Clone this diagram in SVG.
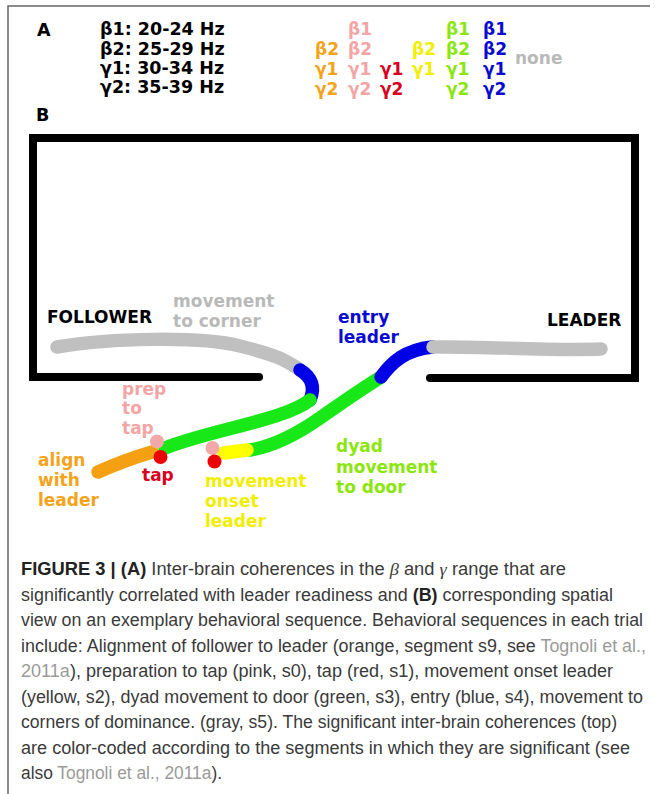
<svg xmlns="http://www.w3.org/2000/svg" width="655" height="794" viewBox="0 0 655 794">
<style>
.lb{font-family:"DejaVu Sans",Verdana,sans-serif;font-weight:bold;font-size:17px}
.lg{font-family:"DejaVu Sans",Verdana,sans-serif;font-weight:bold;font-size:17.5px}
.wall{fill:none;stroke:#000;stroke-width:8;stroke-linecap:square}
.wallr{fill:none;stroke:#000;stroke-width:8;stroke-linecap:round}
.trk{fill:none;stroke-width:13.5;stroke-linecap:round;stroke-linejoin:round}
.cap{font-family:"Liberation Sans",Arial,sans-serif;font-size:17.5px;fill:#3a3a3a}
.b{font-weight:bold;fill:#222}
.m{font-family:"Liberation Serif","Times New Roman",serif;font-style:italic}
.ref{fill:#9a9a9a}
.or{fill:#f5a31a}.pk{fill:#f3a5a5}.rd{fill:#d8001c}.ye{fill:#f2ee00}.gr{fill:#8be60f}.bl{fill:#0a0ad0}.gy{fill:#b9b9b9}
</style>
<rect x="0" y="0" width="655" height="794" fill="#fff"/>
<path d="M8,794 V6 H650" fill="none" stroke="#666" stroke-width="1.5"/>

<g id="legend">
<text class="lg" x="37" y="36">A</text>
<text class="lg" x="100" y="35">β1: 20-24 Hz</text>
<text class="lg" x="100" y="54.5">β2: 25-29 Hz</text>
<text class="lg" x="100" y="73.5">γ1: 30-34 Hz</text>
<text class="lg" x="100" y="92.5">γ2: 35-39 Hz</text>
<g class="lb or"><text x="315" y="55">β2</text><text x="315" y="75">γ1</text><text x="315" y="95">γ2</text></g>
<g class="lb pk"><text x="348" y="35">β1</text><text x="348" y="55">β2</text><text x="348" y="75">γ1</text><text x="348" y="95">γ2</text></g>
<g class="lb rd"><text x="380" y="75">γ1</text><text x="380" y="95">γ2</text></g>
<g class="lb ye"><text x="412" y="55">β2</text><text x="412" y="75">γ1</text></g>
<g class="lb gr"><text x="446" y="35">β1</text><text x="446" y="55">β2</text><text x="446" y="75">γ1</text><text x="446" y="95">γ2</text></g>
<g class="lb bl"><text x="483" y="35">β1</text><text x="483" y="55">β2</text><text x="483" y="75">γ1</text><text x="483" y="95">γ2</text></g>
<text class="lb gy" x="515" y="64">none</text>
<text class="lg" x="36" y="121">B</text>
</g>

<g id="room">
<path class="wall" d="M33,377 V138 H635 V378"/>
<path class="wallr" d="M33,377 H259"/>
<path class="wallr" d="M430,378 H635"/>
</g>

<g id="connectors">
<path class="trk" stroke="#c0c0c0" d="M57,347 C110,338 200,336 240,346 S285,360 299,369"/>
<path class="trk" stroke="#0000e6" d="M300,370 Q318,381 310,400"/>
<path class="trk" stroke="#18e818" d="M310,400 C285,420 210,430 165,448"/>
<path class="trk" stroke="#f5a012" d="M98,472 Q125,460 152,452"/>
<path class="trk" stroke="#18e818" d="M250,450 C275,446 300,432 320,418 S360,390 381,377"/>
<path class="trk" stroke="#0000e6" d="M381,377 C392,362 405,350 432,347"/>
<path class="trk" stroke="#c0c0c0" d="M433,347 C480,346 550,351 601,349"/>
<path class="trk" stroke="#ffff00" d="M224,453 L247,450"/>
</g>

<g id="follower-dots">
<circle cx="157" cy="441.5" r="7" fill="#f0a8a8"/>
<circle cx="160.5" cy="457" r="7" fill="#ee0000"/>
</g>
<g id="leader-dots">
<circle cx="212.5" cy="448" r="7" fill="#f0a8a8"/>
<circle cx="214.5" cy="461.5" r="7" fill="#ee0000"/>
</g>

<g id="labels">
<text class="lb" x="47" y="323" fill="#000">FOLLOWER</text>
<text class="lb" x="547" y="325.5" fill="#000">LEADER</text>
<g id="lbl-corner" class="lb gy"><text x="173" y="306.5">movement</text><text x="173" y="327">to corner</text></g>
<g id="lbl-entry" class="lb bl"><text x="338" y="322.5">entry</text><text x="338" y="342.5">leader</text></g>
<g id="lbl-prep" class="lb pk"><text x="122" y="394.5">prep</text><text x="122" y="414">to</text><text x="122" y="433.5">tap</text></g>
<g id="lbl-align" class="lb or"><text x="38" y="466">align</text><text x="38" y="486">with</text><text x="38" y="506">leader</text></g>
<g id="lbl-tap" class="lb rd"><text x="142" y="481">tap</text></g>
<g id="lbl-onset" class="lb ye"><text x="205" y="486.5">movement</text><text x="205" y="506.5">onset</text><text x="205" y="526.5">leader</text></g>
<g id="lbl-dyad" class="lb gr"><text x="336" y="452">dyad</text><text x="336" y="472.5">movement</text><text x="336" y="492.5">to door</text></g>
</g>

<g id="caption" class="cap">
<text x="21" y="575" textLength="545" lengthAdjust="spacingAndGlyphs"><tspan class="b">FIGURE 3 | (A)</tspan> Inter-brain coherences in the <tspan class="m">β</tspan> and <tspan class="m">γ</tspan> range that are</text>
<text x="21" y="600.5" textLength="592" lengthAdjust="spacingAndGlyphs">significantly correlated with leader readiness and <tspan class="b">(B)</tspan> corresponding spatial</text>
<text x="21" y="626" textLength="622" lengthAdjust="spacingAndGlyphs">view on an exemplary behavioral sequence. Behavioral sequences in each trial</text>
<text x="21" y="651.5" textLength="625" lengthAdjust="spacingAndGlyphs">include: Alignment of follower to leader (orange, segment s9, see <tspan class="ref">Tognoli et al.,</tspan></text>
<text x="21" y="677" textLength="592" lengthAdjust="spacingAndGlyphs"><tspan class="ref">2011a</tspan>), preparation to tap (pink, s0), tap (red, s1), movement onset leader</text>
<text x="21" y="702.5" textLength="622" lengthAdjust="spacingAndGlyphs">(yellow, s2), dyad movement to door (green, s3), entry (blue, s4), movement to</text>
<text x="21" y="728" textLength="596" lengthAdjust="spacingAndGlyphs">corners of dominance. (gray, s5). The significant inter-brain coherences (top)</text>
<text x="21" y="753.5" textLength="609" lengthAdjust="spacingAndGlyphs">are color-coded according to the segments in which they are significant (see</text>
<text x="21" y="779" textLength="201" lengthAdjust="spacingAndGlyphs">also <tspan class="ref">Tognoli et al., 2011a</tspan>).</text>
</g>
</svg>
